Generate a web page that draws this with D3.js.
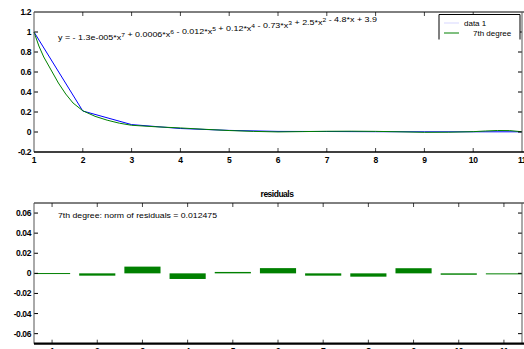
<!DOCTYPE html>
<html>
<head>
<meta charset="utf-8">
<script src="https://cdn.jsdelivr.net/npm/d3@7"></script>
<style>
  html, body { margin: 0; padding: 0; background: #fff; overflow: hidden; }
  svg { display: block; }
  text { font-family: "Liberation Sans", Arial, sans-serif; fill: #000; }
</style>
</head>
<body>
<script>
// Measured data points (blue) and the 7th-degree polynomial fit (green)
const xData = [1, 2, 3, 4, 5, 6, 7, 8, 9, 10, 11];
const yData = [1.0, 0.21, 0.074, 0.035, 0.016, 0.006, 0.005, 0.003, 0.002, 0.002, 0.002];

// Fitted curve sampled along x
const fitX = [1, 1.1, 1.2, 1.35, 1.5, 1.65, 1.8, 2, 2.25, 2.5, 2.75, 3, 3.5, 4, 4.5, 5,
              5.5, 6, 6.5, 7, 7.5, 8, 8.5, 9, 9.5, 10, 10.25, 10.5, 10.75, 11];
const fitY = [0.9997, 0.86, 0.75, 0.62, 0.49, 0.38, 0.29, 0.2123, 0.157, 0.118, 0.088, 0.0673,
              0.052, 0.0406, 0.027, 0.0146, 0.006, 0.0008, 0.004, 0.0073, 0.008, 0.0063,
              0.002, -0.0031, -0.002, 0.0034, 0.010, 0.015, 0.014, 0.0023];

// Residuals (data - fit) at each data point
const residuals = [0.0003, -0.0023, 0.0067, -0.0056, 0.0014, 0.0052,
                   -0.0023, -0.0033, 0.0051, -0.0014, -0.0003];

const topYTicks = [-0.2, 0, 0.2, 0.4, 0.6, 0.8, 1, 1.2];
const topXTicks = [1, 2, 3, 4, 5, 6, 7, 8, 9, 10, 11];
const resYTicks = [-0.06, -0.04, -0.02, 0, 0.02, 0.04, 0.06];
const resXTicks = [1, 2, 3, 4, 5, 6, 7, 8, 9, 10, 11];

const equation = "y = - 1.3e-005*x^7 + 0.0006*x^6 - 0.012*x^5 + 0.12*x^4 - 0.73*x^3 + 2.5*x^2 - 4.8*x + 3.9";
const normText = "7th degree: norm of residuals = 0.012475";
const legendLabels = ["data 1", "7th degree"];

const W = 524, H = 349;
const BLUE = "#0000ff", GREEN = "#008000";

const svg = d3.select("body").append("svg")
  .attr("width", W).attr("height", H);

const fmt = d => (d === 0 ? "0" : String(+d.toFixed(2)));

// Boxed axes frame with inward ticks on all four sides.
// Tick marks are skipped where they would sit on the frame itself.
function frame(g, x, y, xt, yt, bottomWidth) {
  const [x0, x1] = x.range();
  const [yb, yt0] = y.range();
  const tk = 4;
  const xd = x.domain(), yd = y.domain();
  const inner = (v, d) => v > d[0] + 1e-9 && v < d[1] - 1e-9;
  xt.filter(v => inner(v, xd)).forEach(v => {
    g.append("line").attr("x1", x(v)).attr("x2", x(v)).attr("y1", yt0).attr("y2", yt0 + tk)
      .attr("stroke", "#444").attr("stroke-width", 1);
    g.append("line").attr("x1", x(v)).attr("x2", x(v)).attr("y1", yb).attr("y2", yb - tk)
      .attr("stroke", "#444").attr("stroke-width", 1);
  });
  yt.filter(v => inner(v, yd)).forEach(v => {
    g.append("line").attr("x1", x0).attr("x2", x0 + tk).attr("y1", y(v)).attr("y2", y(v))
      .attr("stroke", "#000").attr("stroke-width", 1);
    g.append("line").attr("x1", x1).attr("x2", x1 - tk).attr("y1", y(v)).attr("y2", y(v))
      .attr("stroke", "#000").attr("stroke-width", 1);
  });
  // frame lines
  g.append("line").attr("x1", x0).attr("x2", x1 + 2).attr("y1", yt0).attr("y2", yt0)
    .attr("stroke", "#000").attr("stroke-width", 1);
  g.append("line").attr("x1", x0).attr("x2", x0).attr("y1", yt0).attr("y2", yb)
    .attr("stroke", "#555").attr("stroke-width", 1);
  g.append("line").attr("x1", x1).attr("x2", x1).attr("y1", yt0).attr("y2", yb)
    .attr("stroke", "#555").attr("stroke-width", 1);
  g.append("line").attr("x1", x0).attr("x2", x1 + 2).attr("y1", yb).attr("y2", yb)
    .attr("stroke", "#000").attr("stroke-width", bottomWidth);
  // tick labels
  g.selectAll(null).data(yt).enter().append("text")
    .attr("x", x0 - 3).attr("y", d => y(d)).attr("dy", "0.35em")
    .attr("text-anchor", "end").attr("font-size", 8.5).attr("font-weight", "bold")
    .attr("letter-spacing", -0.4)
    .text(fmt);
  g.selectAll(null).data(xt).enter().append("text")
    .attr("x", d => x(d)).attr("y", yb + 10.5)
    .attr("text-anchor", "middle").attr("font-size", 8.5).attr("font-weight", "bold")
    .attr("letter-spacing", -0.4)
    .text(d => d);
}

// ---------- upper axes: data and fit ----------
const xTop = d3.scaleLinear().domain([1, 11]).range([34, 522]);
const yTop = d3.scaleLinear().domain([-0.2, 1.2]).range([152, 12]);
const gTop = svg.append("g");

const line = d3.line();
gTop.append("path")
  .attr("d", line(xData.map((d, i) => [xTop(d), yTop(yData[i])])))
  .attr("fill", "none").attr("stroke", BLUE).attr("stroke-width", 1);
gTop.append("path")
  .attr("d", line(fitX.map((d, i) => [xTop(d), yTop(fitY[i])])))
  .attr("fill", "none").attr("stroke", GREEN).attr("stroke-width", 1);

frame(gTop, xTop, yTop, topXTicks, topYTicks, 1.5);

// equation text with superscript exponents
const eq = gTop.append("text").attr("x", 58).attr("y", 39.5).attr("font-size", 8)
  .attr("fill", "#222");
equation.split(/(\^\d)/).forEach(part => {
  if (part.startsWith("^")) {
    eq.append("tspan").attr("dy", -3).attr("font-size", 6).text(part.slice(1));
    eq.append("tspan").attr("dy", 3).text("");
  } else {
    eq.append("tspan").text(part);
  }
});
eq.attr("textLength", 319).attr("lengthAdjust", "spacingAndGlyphs");

// legend
const lg = gTop.append("g");
const lx0 = 439, lx1 = 520, ly0 = 14.5, ly1 = 39.5;
lg.append("rect").attr("x", lx0).attr("y", ly0).attr("width", lx1 - lx0).attr("height", ly1 - ly0)
  .attr("fill", "#fff");
lg.append("path").attr("d", `M${lx0},${ly1}V${ly0}H${lx1}V${ly1}`)
  .attr("fill", "none").attr("stroke", "#000").attr("stroke-width", 1);
[BLUE, GREEN].forEach((c, i) => {
  const yy = 23 + i * 10;
  lg.append("line").attr("x1", 444).attr("x2", 459).attr("y1", yy).attr("y2", yy)
    .attr("stroke", c).attr("stroke-width", 1).attr("opacity", i === 0 ? 0.15 : 1);
  lg.append("text").attr("x", i === 0 ? 464 : 473).attr("y", yy + 3).attr("font-size", 8)
    .attr("fill", "#222").text(legendLabels[i]);
});

// ---------- lower axes: residual bars ----------
const xRes = d3.scaleLinear().domain([0.6, 11.4]).range([34, 522]);
const yRes = d3.scaleLinear().domain([-0.07, 0.07]).range([343.7, 203]);
const gRes = svg.append("g");
const bw = (xRes(1.4) - xRes(0.6));

gRes.selectAll("rect.bar").data(residuals).enter().append("rect")
  .attr("class", "bar")
  .attr("x", (d, i) => xRes(resXTicks[i]) - bw / 2)
  .attr("width", bw)
  .attr("y", d => Math.min(yRes(d), yRes(0)))
  .attr("height", d => Math.max(1, Math.abs(yRes(d) - yRes(0))))
  .attr("fill", GREEN);

frame(gRes, xRes, yRes, resXTicks, resYTicks, 2.2);

gRes.append("text").attr("x", 277).attr("y", 197).attr("text-anchor", "middle")
  .attr("font-size", 8.5).attr("font-weight", "bold").attr("letter-spacing", -0.5)
  .text("residuals");
gRes.append("text").attr("x", 58).attr("y", 218).attr("font-size", 8).attr("fill", "#222")
  .attr("textLength", 159).attr("lengthAdjust", "spacingAndGlyphs")
  .text(normText);
</script>
</body>
</html>
